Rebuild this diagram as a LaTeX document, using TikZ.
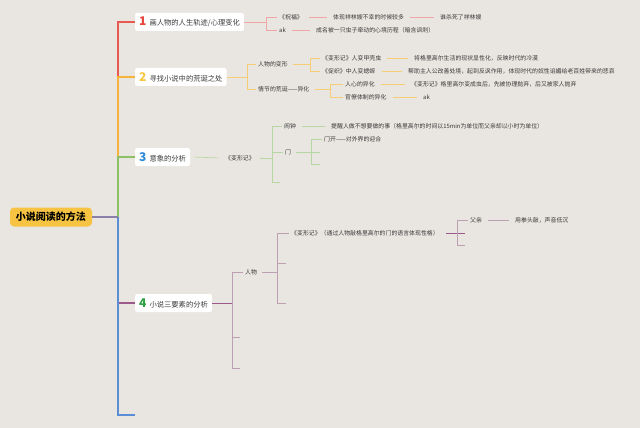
\documentclass[tikz,border=0pt]{standalone}
\usepackage{fontspec}
\setmainfont{Noto Sans CJK SC}
\definecolor{bg}{HTML}{E9E6E1}
\definecolor{cRed}{HTML}{E85A50}
\definecolor{cRedL}{HTML}{F0A6A6}
\definecolor{cOra}{HTML}{F6B53A}
\definecolor{cOraL}{HTML}{F5CD74}
\definecolor{cGre}{HTML}{8CC064}
\definecolor{cGreL}{HTML}{B7D7A2}
\definecolor{cPur}{HTML}{9C5A8C}
\definecolor{cPurL}{HTML}{BC9FB2}
\definecolor{cBlu}{HTML}{5A8ED6}
\definecolor{cRoot}{HTML}{8A80A8}
\definecolor{nRed}{HTML}{E8453C}
\definecolor{nYel}{HTML}{F8C640}
\definecolor{nBlu}{HTML}{2E8BD8}
\definecolor{nGre}{HTML}{2EA040}
\definecolor{rootfill}{HTML}{F6C343}
\definecolor{txt}{HTML}{3A3A3A}
\begin{document}
\begin{tikzpicture}[x=1pt,y=-1pt,
  rootbox/.style={fill=rootfill,rounded corners=4pt,minimum height=19pt,inner xsep=6pt,
    font=\fontsize{10}{11}\selectfont\bfseries,text=black},
  brbox/.style={fill=white,rounded corners=2pt,minimum height=18pt,inner xsep=4pt,anchor=west,
    font=\fontsize{7.3}{8}\selectfont,text=txt},
  tx/.style={anchor=west,inner xsep=2pt,inner ysep=1pt,font=\fontsize{5.9}{7}\selectfont,text=txt},
  trunk/.style={line width=1.8pt},
  sub/.style={line width=0.6pt},
  chain/.style={line width=0.6pt,shorten <=4pt,shorten >=4pt},
  num/.style={}
]
\fill[bg] (0,0) rectangle (640,428);
\useasboundingbox (0,0) rectangle (640,428);

% root
\node[rootbox] (root) at (51,217) {小说阅读的方法};
\coordinate (tr) at (118,217);

% branch boxes
\node[brbox] (B1) at (135,22) {{\fontsize{12}{12}\selectfont\bfseries\color{nRed}1}\hspace{3pt}画人物的人生轨迹/心理变化};
\node[brbox] (B2) at (135,77) {{\fontsize{12}{12}\selectfont\bfseries\color{nYel}2}\hspace{3pt}寻找小说中的荒诞之处};
\node[brbox] (B3) at (135,157) {{\fontsize{12}{12}\selectfont\bfseries\color{nBlu}3}\hspace{3pt}意象的分析};
\node[brbox] (B4) at (135,303) {{\fontsize{12}{12}\selectfont\bfseries\color{nGre}4}\hspace{3pt}小说三要素的分析};
\coordinate (B5) at (135,415);

% trunk lines
\draw[trunk,cRed] (tr) -- (tr |- B1.west) -- (B1.west);
\draw[trunk,cOra] (tr) -- (tr |- B2.west) -- (B2.west);
\draw[trunk,cGre] (tr) -- (tr |- B3.west) -- (B3.west);
\draw[trunk,cPur] (tr) -- (tr |- B4.west) -- (B4.west);
\draw[trunk,cBlu] (tr) -- (tr |- B5) -- (B5);
\draw[trunk,cRoot] (root.east) -- (tr);

% ---------- branch 1 ----------
\node[tx] (n1a) at (277,17) {《祝福》};
\node[tx] (n1b) at (331,17) {体现祥林嫂不幸的时候较多};
\node[tx] (n1c) at (438,17) {谁杀死了祥林嫂};
\node[tx] (n1d) at (277,30) {ak};
\node[tx] (n1e) at (314,30) {成名被一只虫子牵动的心境历程（暗含讽刺）};
\coordinate (k1) at (266,22);
\draw[sub,cRedL] (B1.east) -- (k1);
\draw[sub,cRedL] (k1 |- n1a.west) -- (k1 |- n1d.west);
\draw[sub,cRedL] (k1 |- n1a.west) -- (n1a.west);
\draw[sub,cRedL] (k1 |- n1d.west) -- (n1d.west);
\draw[chain,cRedL] (n1a.east) -- (n1b.west);
\draw[chain,cRedL] (n1b.east) -- (n1c.west);
\draw[chain,cRedL] (n1d.east) -- (n1e.west);

% ---------- branch 2 ----------
\node[tx] (n2a) at (256,64) {人物的变形};
\node[tx] (n2b) at (256,89) {情节的荒诞——异化};
\coordinate (k2) at (247,77);
\draw[sub,cOraL] (B2.east) -- (k2);
\draw[sub,cOraL] (k2 |- n2a.west) -- (k2 |- n2b.west);
\draw[sub,cOraL] (k2 |- n2a.west) -- (n2a.west);
\draw[sub,cOraL] (k2 |- n2b.west) -- (n2b.west);

\node[tx] (n2a1) at (320,58) {《变形记》人变甲壳虫};
\node[tx] (n2a2) at (320,71) {《促织》中人变蟋蟀};
\coordinate (k2a) at (310,64);
\draw[sub,cOraL] ([xshift=3pt]n2a.east) -- (k2a);
\draw[sub,cOraL] (k2a |- n2a1.west) -- (k2a |- n2a2.west);
\draw[sub,cOraL] (k2a |- n2a1.west) -- (n2a1.west);
\draw[sub,cOraL] (k2a |- n2a2.west) -- (n2a2.west);
\node[tx] (n2a1x) at (412,58) {将格里高尔生活的现状显性化，反映时代的冷漠};
\node[tx] (n2a2x) at (406,71) {帮助主人公改善处境，起到反讽作用，体现时代的奴性谄媚给老百姓带来的悲哀};
\draw[chain,cOraL] (n2a1.east) -- (n2a1x.west);
\draw[chain,cOraL] (n2a2.east) -- (n2a2x.west);

\node[tx] (n2b1) at (343,84) {人心的异化};
\node[tx] (n2b2) at (343,97) {官僚体制的异化};
\coordinate (k2b) at (330,89);
\draw[sub,cOraL] ([xshift=3pt]n2b.east) -- (k2b);
\draw[sub,cOraL] (k2b |- n2b1.west) -- (k2b |- n2b2.west);
\draw[sub,cOraL] (k2b |- n2b1.west) -- (n2b1.west);
\draw[sub,cOraL] (k2b |- n2b2.west) -- (n2b2.west);
\node[tx] (n2b1x) at (409,84) {《变形记》格里高尔变成虫后，先被协理抛弃，后又被家人抛弃};
\node[tx] (n2b2x) at (421,97) {ak};
\draw[chain,cOraL] (n2b1.east) -- (n2b1x.west);
\draw[chain,cOraL] (n2b2.east) -- (n2b2x.west);

% ---------- branch 3 ----------
\node[tx] (n3) at (223,158) {《变形记》};
\draw[chain,cGreL] (B3.east) -- (n3.west);
\node[tx] (n3a) at (282,126) {闹钟};
\node[tx] (n3b) at (283,152) {门};
\coordinate (n3c) at (280,182);
\coordinate (k3) at (272,158);
\draw[sub,cGreL] ([xshift=3pt]n3.east) -- (k3);
\draw[sub,cGreL] (k3 |- n3a.west) -- (k3 |- n3c);
\draw[sub,cGreL] (k3 |- n3a.west) -- (n3a.west);
\draw[sub,cGreL] (k3 |- n3b.west) -- (n3b.west);
\draw[sub,cGreL] (k3 |- n3c) -- (n3c);
\node[tx] (n3ax) at (329,126) {提醒人做不想要做的事（格里高尔的时间以15min为单位而父亲却以小时为单位）};
\draw[chain,cGreL] (n3a.east) -- (n3ax.west);

\node[tx] (n3b1) at (322,139) {门开——对外界的迎合};
\coordinate (n3b2) at (320,152);
\coordinate (n3b3) at (320,164);
\coordinate (k3b) at (311,152);
\draw[sub,cGreL] ([xshift=3pt]n3b.east) -- (n3b2);
\draw[sub,cGreL] (k3b |- n3b1.west) -- (k3b |- n3b3);
\draw[sub,cGreL] (k3b |- n3b1.west) -- (n3b1.west);
\draw[sub,cGreL] (k3b |- n3b3) -- (n3b3);

% ---------- branch 4 ----------
\node[tx] (n4a) at (243,272) {人物};
\coordinate (n4b) at (240,337);
\coordinate (n4c) at (240,368);
\coordinate (k4) at (232,303);
\draw[sub,cPur] (B4.east) -- (k4);
\draw[sub,cPurL] (k4 |- n4a.west) -- (k4 |- n4c);
\draw[sub,cPurL] (k4 |- n4a.west) -- (n4a.west);
\draw[sub,cPurL] (k4 |- n4b) -- (n4b);
\draw[sub,cPurL] (k4 |- n4c) -- (n4c);

\node[tx] (n4a1) at (289,233) {《变形记》（通过人物敲格里高尔的门的语言体现性格）};
\coordinate (n4a2) at (286,263);
\coordinate (n4a3) at (286,303);
\coordinate (k4a) at (277,272);
\draw[sub,cPurL] ([xshift=3pt]n4a.east) -- (k4a);
\draw[sub,cPurL] (k4a |- n4a1.west) -- (k4a |- n4a3);
\draw[sub,cPurL] (k4a |- n4a1.west) -- (n4a1.west);
\draw[sub,cPurL] (k4a |- n4a2) -- (n4a2);
\draw[sub,cPurL] (k4a |- n4a3) -- (n4a3);

\node[tx] (n4f) at (468,220) {父亲};
\coordinate (n4g) at (465,233);
\coordinate (n4h) at (465,245);
\coordinate (k4b) at (457,233);
\draw[sub,cPur] ([xshift=5pt]n4a1.east) -- (n4g);
\draw[sub,cPurL] (k4b |- n4f.west) -- (k4b |- n4h);
\draw[sub,cPurL] (k4b |- n4f.west) -- (n4f.west);
\draw[sub,cPurL] (k4b |- n4h) -- (n4h);
\node[tx] (n4fx) at (513,220) {用拳头敲，声音低沉};
\draw[chain,cPurL] (n4f.east) -- (n4fx.west);
\end{tikzpicture}
\end{document}
